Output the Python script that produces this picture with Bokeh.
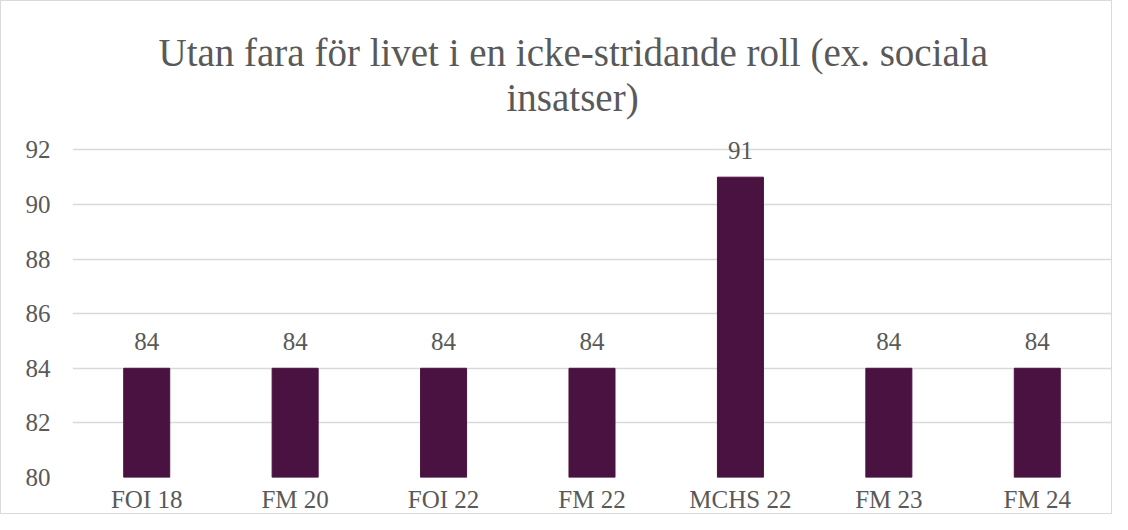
from bokeh.plotting import figure
from bokeh.models import ColumnDataSource, Title, LabelSet, Range1d, FixedTicker
from bokeh.embed import file_html
from bokeh.resources import INLINE

categories = ["FOI 18", "FM 20", "FOI 22", "FM 22", "MCHS 22", "FM 23", "FM 24"]
values = [84, 84, 84, 84, 91, 84, 84]
y_ticks = [80, 82, 84, 86, 88, 90, 92]

FONT = "Liberation Serif"
GREY = "#595959"
BAR = "#4A1241"

src = ColumnDataSource(dict(cat=categories, val=values, lab=[str(v) for v in values]))

p = figure(x_range=categories, y_range=Range1d(80, 92.6), width=1112, height=514,
           output_backend="svg", toolbar_location=None, title=None,
           min_border_left=71, min_border_right=2, min_border_bottom=0, min_border_top=132)

p.vbar(x="cat", top="val", bottom=80, width=0.31, source=src, color=BAR)

labels = LabelSet(x="cat", y="val", text="lab", source=src, text_align="center",
                  text_baseline="bottom", y_offset=18, text_font=FONT,
                  text_font_size="25px", text_color=GREY)
p.add_layout(labels)

p.add_layout(Title(text="insatser)", align="left", text_font=FONT, text_font_size="39px",
                   text_font_style="normal", text_color=GREY, offset=434, standoff=29), "above")
p.add_layout(Title(text="Utan fara för livet i en icke-stridande roll (ex. sociala", align="left",
                   text_font=FONT, text_font_size="39px", text_font_style="normal",
                   text_color=GREY, offset=86, standoff=-28), "above")

p.yaxis.ticker = FixedTicker(ticks=y_ticks)
for ax in (p.xaxis, p.yaxis):
    ax.axis_line_color = None
    ax.major_tick_line_color = None
    ax.minor_tick_line_color = None
    ax.major_tick_out = 0
    ax.major_tick_in = 0
    ax.minor_tick_out = 0
    ax.minor_tick_in = 0
    ax.axis_label_standoff = 0
    ax.major_label_text_font = FONT
    ax.major_label_text_font_size = "25px"
    ax.major_label_text_color = GREY
p.xaxis.major_label_standoff = 8
p.yaxis.major_label_standoff = 22

p.xgrid.grid_line_color = None
p.ygrid.grid_line_color = "#D9D9D9"
p.ygrid.grid_line_width = 1.5
p.outline_line_color = None
p.styles = {"border": "1.5px solid #D9D9D9"}

open("out.html", "w").write(file_html(p, INLINE))
